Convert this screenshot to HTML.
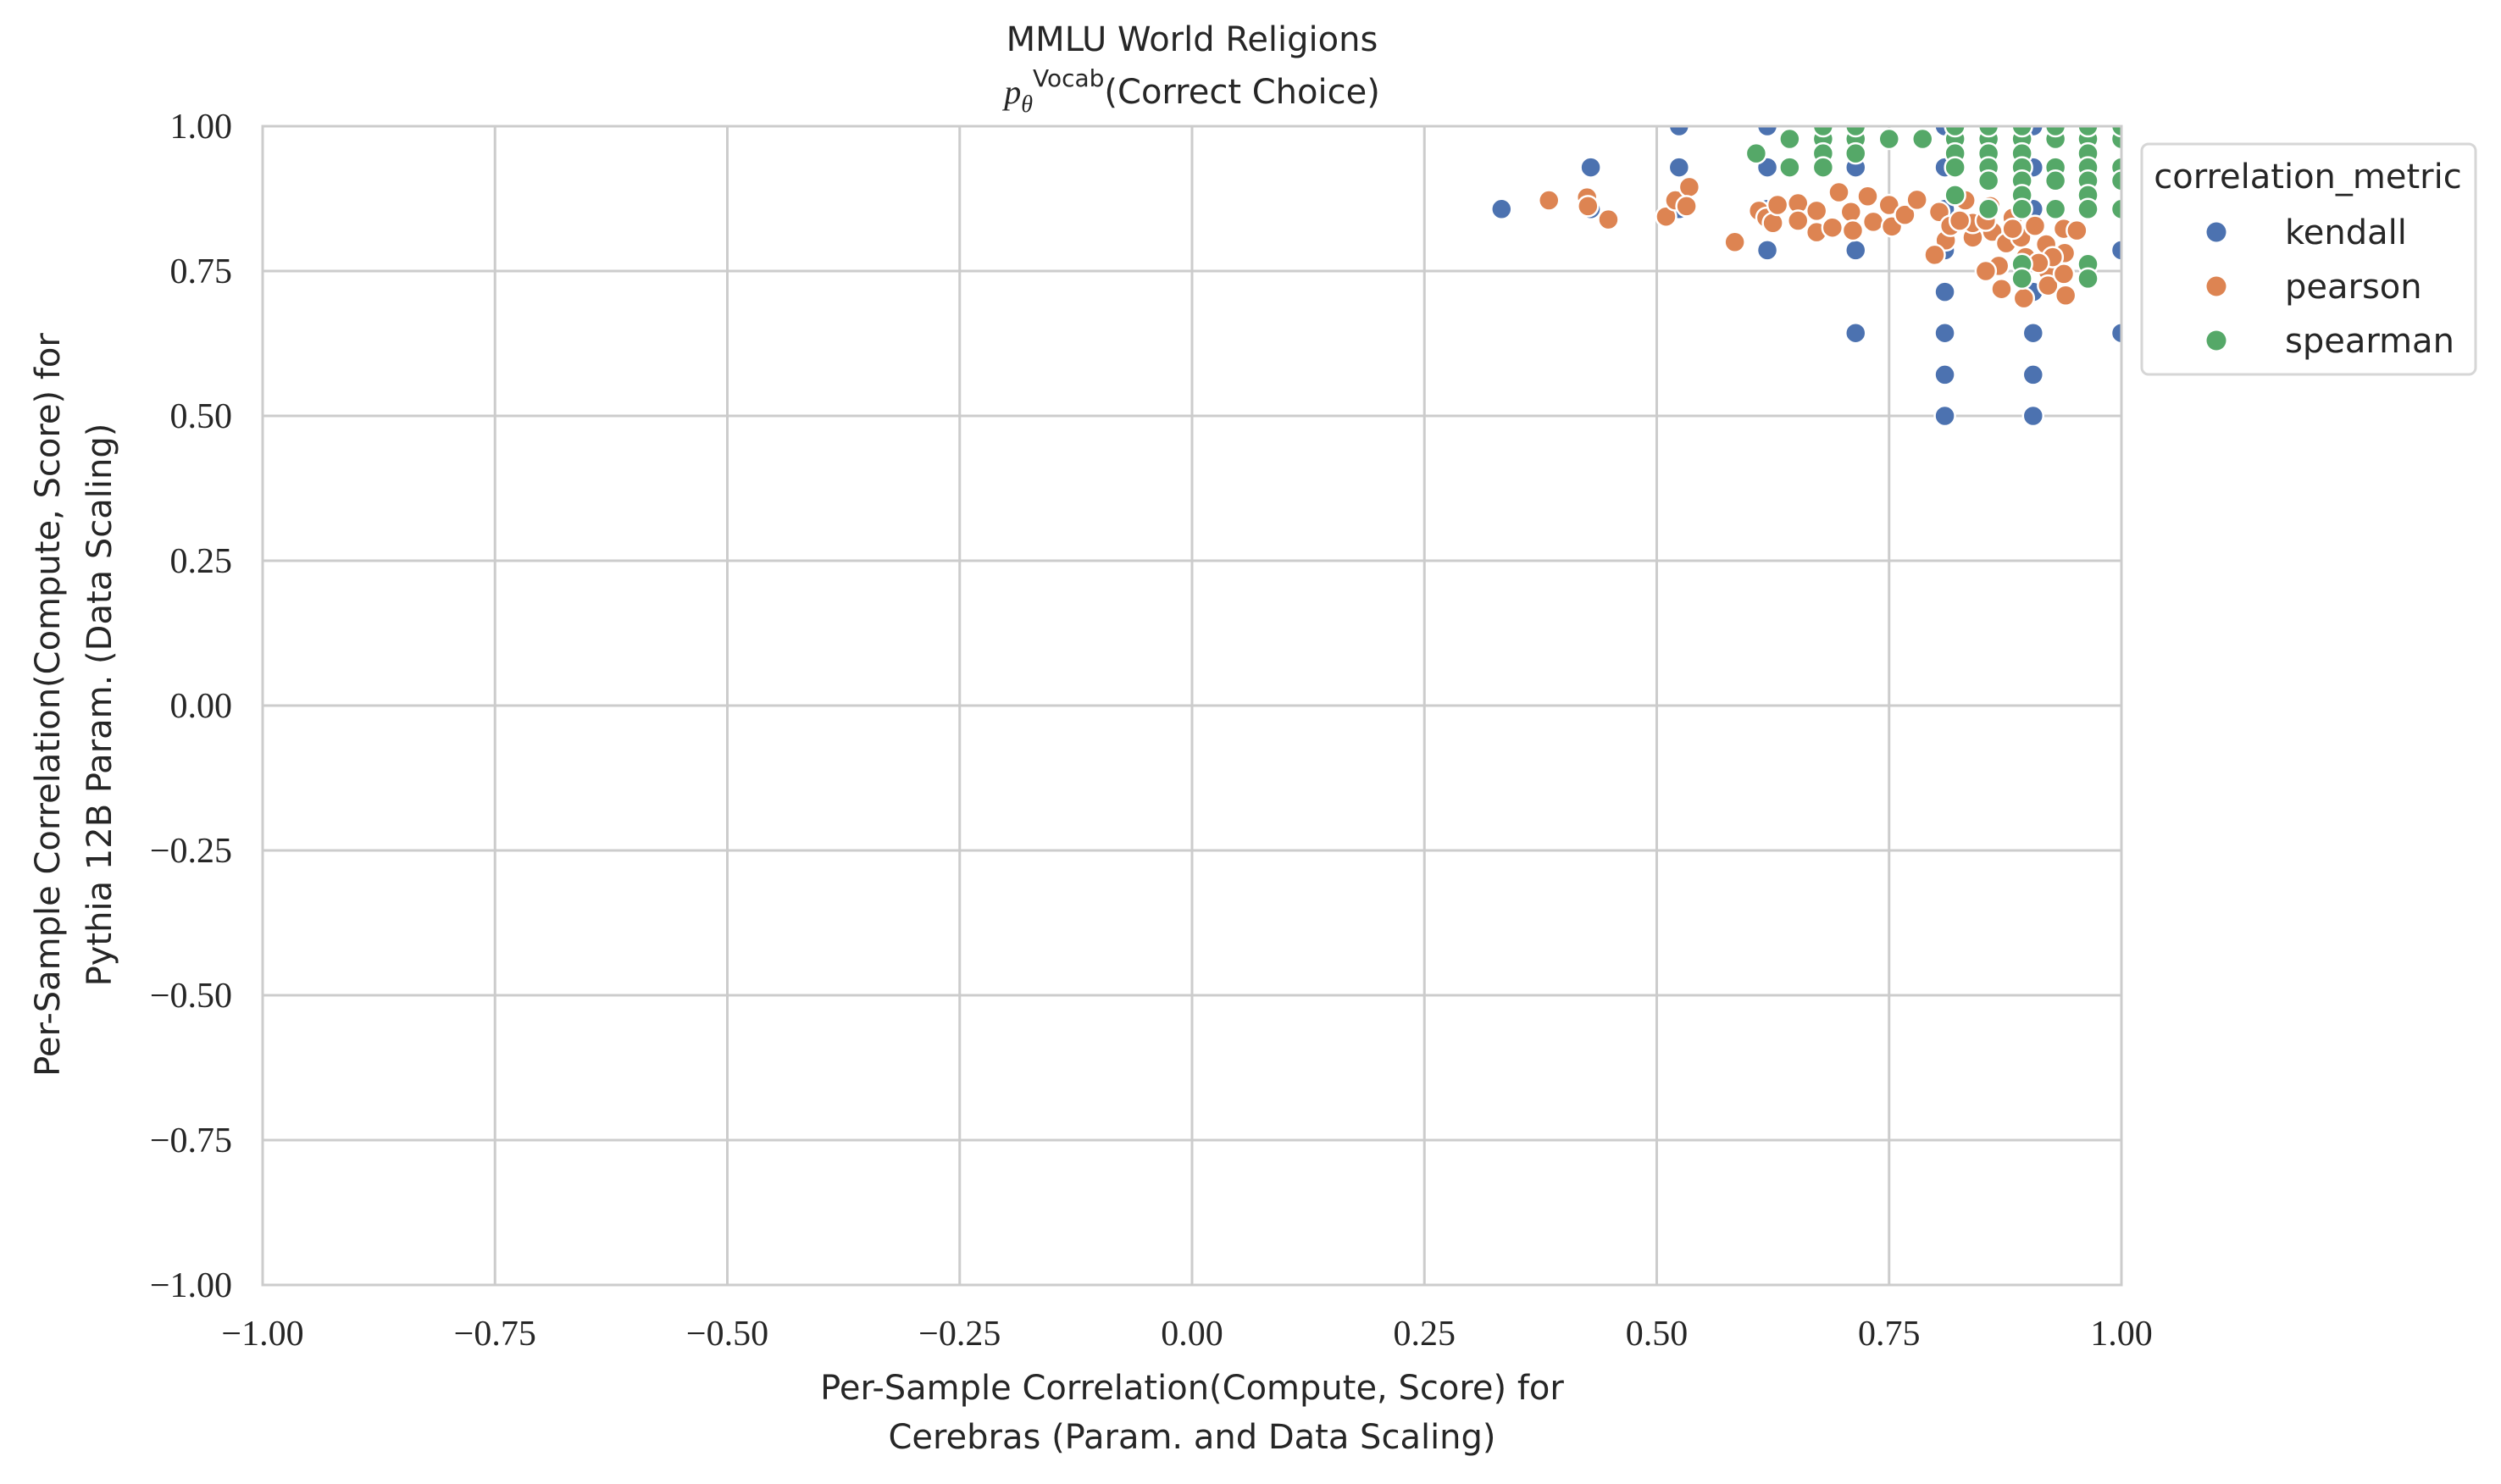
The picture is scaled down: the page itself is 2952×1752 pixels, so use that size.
<!DOCTYPE html>
<html><head><meta charset="utf-8"><style>
html,body{margin:0;padding:0;background:#fff;}
svg{display:block;}
.tick{font-family:"Liberation Serif",serif;font-size:42px;fill:#262626;}
.lab{font-family:"DejaVu Sans","Liberation Sans",sans-serif;font-size:40px;fill:#262626;}
</style></head><body>
<svg id="chart" width="2952" height="1752" viewBox="0 0 2952 1752" xmlns="http://www.w3.org/2000/svg">
<defs><clipPath id="plotclip"><rect x="310" y="149" width="2194" height="1368"/></clipPath></defs>
<g id="grid"></g>
<g id="points" clip-path="url(#plotclip)"></g>
<rect x="310" y="149" width="2194" height="1368" fill="none" stroke="#cccccc" stroke-width="3"/>
<g id="ticks"></g>
<text class="lab" x="1407" y="60" text-anchor="middle">MMLU World Religions</text>
<text class="lab" x="1407" y="122" text-anchor="middle"><tspan font-family="Liberation Serif" font-style="italic">p</tspan><tspan font-family="Liberation Serif" font-style="italic" font-size="28" dy="10">θ</tspan><tspan font-size="28" dy="-30">Vocab</tspan><tspan dy="20">(Correct Choice)</tspan></text>
<text class="lab" x="1407" y="1652" text-anchor="middle">Per-Sample Correlation(Compute, Score) for</text>
<text class="lab" x="1407" y="1710" text-anchor="middle">Cerebras (Param. and Data Scaling)</text>
<text class="lab" transform="translate(70,832) rotate(-90)" text-anchor="middle">Per-Sample Correlation(Compute, Score) for</text>
<text class="lab" transform="translate(131,832) rotate(-90)" text-anchor="middle">Pythia 12B Param. (Data Scaling)</text>
<g>
<rect x="2528" y="170" width="394" height="272" rx="8" fill="#fff" stroke="#d6d6d6" stroke-width="3"/>
<text class="lab" x="2724" y="222" text-anchor="middle">correlation_metric</text>
<circle cx="2616" cy="274" r="11.5" fill="#4c72b0"/>
<text class="lab" x="2697" y="288">kendall</text>
<circle cx="2616" cy="338" r="11.5" fill="#dd8452"/>
<text class="lab" x="2697" y="352">pearson</text>
<circle cx="2616" cy="402" r="11.5" fill="#55a868"/>
<text class="lab" x="2697" y="416">spearman</text>
</g>
</svg>
<script>
const tickValues = [-1, -0.75, -0.5, -0.25, 0, 0.25, 0.5, 0.75, 1];
const tickLabels = ["\u22121.00","\u22120.75","\u22120.50","\u22120.25","0.00","0.25","0.50","0.75","1.00"];
const kendallX = [0.333,0.429,0.429,0.524,0.524,0.524,0.619,0.619,0.619,0.619,0.714,0.714,0.714,0.714,0.81,0.81,0.81,0.81,0.81,0.81,0.81,0.81,0.905,0.905,0.905,0.905,0.905,0.905,0.905,1.0,1.0,1.0];
const kendallY = [0.857,0.929,0.857,1.0,0.929,0.857,1.0,0.929,0.857,0.786,0.929,0.786,0.643,1.0,1.0,0.929,0.857,0.786,0.714,0.643,0.571,0.5,1.0,0.929,0.857,0.714,0.643,0.571,0.5,0.786,0.643,0.929];
const pearsonX = [0.384,0.425,0.426,0.448,0.51,0.52,0.535,0.532,0.584,0.61,0.618,0.625,0.63,0.652,0.652,0.672,0.672,0.689,0.696,0.709,0.711,0.727,0.733,0.75,0.753,0.767,0.78,0.804,0.811,0.799,0.816,0.832,0.84,0.861,0.868,0.859,0.854,0.871,0.876,0.892,0.895,0.907,0.919,0.921,0.921,0.938,0.94,0.938,0.939,0.952,0.883,0.84,0.897,0.926,0.826,0.854,0.883,0.911];
const pearsonY = [0.872,0.877,0.862,0.839,0.844,0.872,0.895,0.862,0.80,0.854,0.842,0.833,0.864,0.867,0.837,0.854,0.817,0.825,0.886,0.852,0.82,0.879,0.835,0.864,0.827,0.847,0.873,0.852,0.803,0.778,0.828,0.872,0.808,0.818,0.759,0.862,0.75,0.719,0.798,0.808,0.703,0.828,0.796,0.75,0.725,0.745,0.708,0.823,0.781,0.82,0.842,0.833,0.774,0.774,0.837,0.837,0.823,0.764];
const spearmanX = [0.607,0.643,0.643,0.679,0.679,0.679,0.679,0.714,0.714,0.714,0.75,0.786,0.821,0.821,0.821,0.821,0.821,0.857,0.857,0.857,0.857,0.857,0.857,0.893,0.893,0.893,0.893,0.893,0.893,0.893,0.893,0.893,0.929,0.929,0.929,0.929,0.929,0.964,0.964,0.964,0.964,0.964,0.964,0.964,0.964,0.964,1.0,1.0,1.0,1.0,1.0];
const spearmanY = [0.953,0.978,0.929,0.978,0.953,0.929,1.0,0.978,0.953,1.0,0.978,0.978,0.978,0.953,0.929,0.881,1.0,0.978,0.953,0.929,0.906,0.857,1.0,0.978,0.953,0.929,0.906,0.881,0.857,0.762,0.737,1.0,0.978,0.929,0.906,0.857,1.0,0.978,0.953,0.929,0.906,0.881,0.857,0.762,0.737,1.0,0.978,0.929,0.906,0.857,1.0];

const NS = "http://www.w3.org/2000/svg";
const L = 310, R = 2504, T = 149, B = 1517;
const xs = v => L + (v + 1) / 2 * (R - L);
const ys = v => B - (v + 1) / 2 * (B - T);
const grid = document.getElementById('grid');
const ticks = document.getElementById('ticks');
tickValues.forEach((v, i) => {
  const gx = document.createElementNS(NS, 'line');
  
  
  gx.setAttribute('x1', xs(v)); gx.setAttribute('x2', xs(v));
  gx.setAttribute('y1', T); gx.setAttribute('y2', B);
  gx.setAttribute('stroke', '#cccccc'); gx.setAttribute('stroke-width', '3');
  grid.appendChild(gx);
  const gy = document.createElementNS(NS, 'line');
  
  
  gy.setAttribute('x1', L); gy.setAttribute('x2', R);
  gy.setAttribute('y1', ys(v)); gy.setAttribute('y2', ys(v));
  gy.setAttribute('stroke', '#cccccc'); gy.setAttribute('stroke-width', '3');
  grid.appendChild(gy);
  const tx = document.createElementNS(NS, 'text');
  
  
  tx.setAttribute('class', 'tick');
  tx.setAttribute('x', xs(v)); tx.setAttribute('y', 1588);
  tx.setAttribute('text-anchor', 'middle');
  tx.textContent = tickLabels[i];
  ticks.appendChild(tx);
  const ty = document.createElementNS(NS, 'text');
  
  
  ty.setAttribute('class', 'tick');
  ty.setAttribute('x', 274); ty.setAttribute('y', ys(v) + 14);
  ty.setAttribute('text-anchor', 'end');
  ty.textContent = tickLabels[i];
  ticks.appendChild(ty);
});
const pts = document.getElementById('points');
function drawSeries(X, Y, color, name) {
  X.forEach((x, i) => {
    const c = document.createElementNS(NS, 'circle');
    
    
    c.setAttribute('cx', xs(x)); c.setAttribute('cy', ys(Y[i]));
    c.setAttribute('r', 12);
    c.setAttribute('fill', color);
    c.setAttribute('stroke', '#ffffff'); c.setAttribute('stroke-width', '2.5');
    pts.appendChild(c);
  });
}
drawSeries(kendallX, kendallY, '#4c72b0', 'kendall-point');
drawSeries(pearsonX, pearsonY, '#dd8452', 'pearson-point');
drawSeries(spearmanX, spearmanY, '#55a868', 'spearman-point');
</script>
</body></html>
